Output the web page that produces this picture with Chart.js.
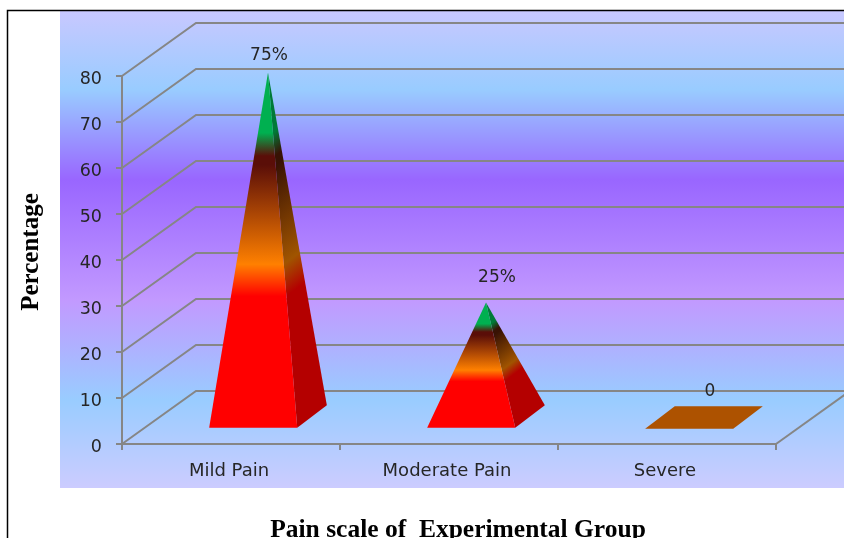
<!DOCTYPE html>
<html lang="en">
<head>
    <meta charset="UTF-8">
    <title>Pain scale of Experimental Group</title>
    <script src="https://cdn.jsdelivr.net/npm/chart.js"></script>
    <style>
        html, body { margin: 0; padding: 0; background: #fff; overflow: hidden; }
        canvas { display: block; }
    </style>
</head>
<body>
    <canvas id="painChart" width="844" height="538"></canvas>

    <script>
        const categories = ['Mild Pain', 'Moderate Pain', 'Severe'];
        const painValues = [75, 25, 0];
        const valueLabels = ['75%', '25%', '0'];
        const yTicks = [0, 10, 20, 30, 40, 50, 60, 70, 80];

        const AXIS_GRAY = '#868686';
        const TEXT_COLOR = '#262626';
        const SANS = '"DejaVu Sans", sans-serif';

        // 3D look: how far the back wall sits from the front axes
        const DEPTH_X = 74;
        const DEPTH_Y = -53;

        // label nudges from the top of each mark
        const labelNudge = [[1, -17], [11, -25], [6, -26]];

        function pyramidGradient(ctx, p0, p1, stops) {
            const g = ctx.createLinearGradient(p0[0], p0[1], p1[0], p1[1]);
            stops.forEach(s => g.addColorStop(s[0], s[1]));
            return g;
        }

        const frontStops = [[0, '#ff0000'], [0.37, '#ff0000'], [0.46, '#ff8000'], [0.74, '#5a0e08'], [0.765, '#5a0e08'], [0.83, '#00b050'], [1, '#00b050']];
        const sideStops = [[0, '#b40000'], [0.37, '#b40000'], [0.46, '#a05400'], [0.74, '#381204'], [0.765, '#381204'], [0.83, '#007a38'], [1, '#007a38']];

        const fill = (ctx, pts, style) => {
            ctx.beginPath();
            pts.forEach((p, i) => i ? ctx.lineTo(p[0], p[1]) : ctx.moveTo(p[0], p[1]));
            ctx.closePath();
            ctx.fillStyle = style;
            ctx.fill();
        };

        // background panel, frame lines and the 3D walls
        const wallPlugin = {
            id: 'walls',
            beforeDraw(chart) {
                const ctx = chart.ctx;
                const { x, y } = chart.scales;
                ctx.save();
                const bg = ctx.createLinearGradient(0, 11, 0, 488);
                bg.addColorStop(0, '#c8c8ff');
                bg.addColorStop(0.165, '#99ccff');
                bg.addColorStop(0.354, '#9966ff');
                bg.addColorStop(0.606, '#c299ff');
                bg.addColorStop(0.815, '#99ccff');
                bg.addColorStop(1, '#ccccff');
                ctx.fillStyle = bg;
                ctx.fillRect(60, 11, 784, 477);

                ctx.strokeStyle = '#000';
                ctx.lineWidth = 1.5;
                ctx.beginPath();
                ctx.moveTo(7.5, 538);
                ctx.lineTo(7.5, 10.5);
                ctx.lineTo(844, 10.5);
                ctx.stroke();

                ctx.strokeStyle = AXIS_GRAY;
                ctx.lineWidth = 2;
                yTicks.forEach(t => {
                    const py = y.getPixelForValue(t);
                    ctx.beginPath();
                    ctx.moveTo(x.left, py);
                    ctx.lineTo(x.left + DEPTH_X, py + DEPTH_Y);
                    ctx.lineTo(x.right + DEPTH_X, py + DEPTH_Y);
                    ctx.stroke();
                });
                const floor = y.getPixelForValue(0);
                ctx.beginPath();
                ctx.moveTo(x.right, floor);
                ctx.lineTo(x.right + DEPTH_X, floor + DEPTH_Y);
                ctx.stroke();
                ctx.restore();
            }
        };

        // pyramids are built on the bar elements so they follow the scales
        const pyramidPlugin = {
            id: 'pyramids',
            afterDatasetsDraw(chart) {
                const ctx = chart.ctx;
                const bars = chart.getDatasetMeta(0).data;
                ctx.save();
                bars.forEach((bar, i) => {
                    const half = bar.width / 2;
                    const baseY = bar.base + DEPTH_Y * 0.29;
                    const frontL = [bar.x - half + DEPTH_X * 0.3, baseY];
                    const frontR = [bar.x + half + DEPTH_X * 0.3, baseY];
                    const backR = [bar.x + half + DEPTH_X * 0.7, bar.base + DEPTH_Y * 0.71];
                    const backL = [bar.x - half + DEPTH_X * 0.7, bar.base + DEPTH_Y * 0.71];
                    const apex = [bar.x + DEPTH_X * 0.5, bar.y + DEPTH_Y * 0.5];

                    if (painValues[i] === 0) {
                        fill(ctx, [frontL, frontR, backR, backL], '#ad5200');
                    } else {
                        const front = pyramidGradient(ctx, [0, baseY], [0, apex[1]], frontStops);
                        // side bands run along the depth direction
                        const d = [backR[0] - frontR[0], backR[1] - frontR[1]];
                        const a = [apex[0] - frontR[0], apex[1] - frontR[1]];
                        const k = (a[0] * d[0] + a[1] * d[1]) / (d[0] * d[0] + d[1] * d[1]);
                        const side = pyramidGradient(ctx, frontR, [frontR[0] + a[0] - k * d[0], frontR[1] + a[1] - k * d[1]], sideStops);
                        fill(ctx, [frontR, backR, apex], side);
                        fill(ctx, [frontL, frontR, apex], front);
                    }

                    ctx.fillStyle = TEXT_COLOR;
                    ctx.font = '17px ' + SANS;
                    ctx.textAlign = 'center';
                    ctx.textBaseline = 'middle';
                    ctx.fillText(valueLabels[i], apex[0] + labelNudge[i][0], apex[1] + labelNudge[i][1]);
                });

                // axis titles sit off the plot centre in the original
                ctx.fillStyle = '#000';
                ctx.font = 'bold 25.5px "Liberation Serif", serif';
                ctx.textAlign = 'center';
                ctx.textBaseline = 'middle';
                ctx.fillText('Pain scale of  Experimental Group', 458, 530);
                ctx.translate(31.5, 252);
                ctx.rotate(-Math.PI / 2);
                ctx.font = 'bold 25px "Liberation Serif", serif';
                ctx.fillText('Percentage', 0, 0);
                ctx.restore();
            }
        };

        new Chart(document.getElementById('painChart'), {
            type: 'bar',
            data: {
                labels: categories,
                datasets: [{
                    label: 'Pain scale',
                    data: painValues,
                    backgroundColor: 'rgba(0,0,0,0)',
                    borderWidth: 0,
                    categoryPercentage: 1,
                    barPercentage: 0.404
                }]
            },
            options: {
                responsive: false,
                animation: false,
                layout: { padding: { left: 0, top: 76, right: 68, bottom: 0 } },
                plugins: { legend: { display: false }, tooltip: { enabled: false } },
                scales: {
                    x: {
                        afterFit(scale) { scale.height = 94; },
                        grid: { offset: true, drawOnChartArea: false, tickLength: 6, color: AXIS_GRAY, lineWidth: 2 },
                        border: { color: AXIS_GRAY, width: 2 },
                        ticks: { color: TEXT_COLOR, font: { family: SANS, size: 18 }, padding: 11, maxRotation: 0, labelOffset: -2 }
                    },
                    y: {
                        min: 0,
                        max: 80,
                        afterFit(scale) { scale.width = 122; },
                        grid: { drawOnChartArea: false, tickLength: 6, color: AXIS_GRAY, lineWidth: 2 },
                        border: { color: AXIS_GRAY, width: 2 },
                        ticks: { stepSize: 10, color: TEXT_COLOR, font: { family: SANS, size: 17.5 }, padding: 14, labelOffset: 3 }
                    }
                }
            },
            plugins: [wallPlugin, pyramidPlugin]
        });
    </script>
</body>
</html>
